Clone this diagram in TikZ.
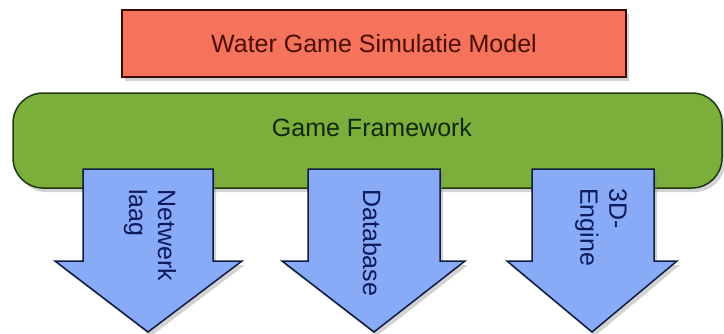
\documentclass[tikz,border=0pt]{standalone}
\usepackage{fontspec}
\setmainfont{Liberation Sans}
\usetikzlibrary{shadows}
\definecolor{redfill}{HTML}{F4735A}
\definecolor{redline}{HTML}{3A0A02}
\definecolor{redtext}{HTML}{4A0E04}
\definecolor{greenfill}{HTML}{7BAE3B}
\definecolor{greenline}{HTML}{1E3812}
\definecolor{greentext}{HTML}{10280A}
\definecolor{bluefill}{HTML}{88AAF7}
\definecolor{blueline}{HTML}{0E1C40}
\definecolor{bluetext}{HTML}{0C1A5A}
\tikzset{
  shadowed/.style={drop shadow={opacity=0.35, shadow xshift=3pt, shadow yshift=-4pt}},
  redbox/.style={draw=redline, fill=redfill, line width=1.5pt, shadowed, text=redtext, inner sep=0pt},
  greenbox/.style={draw=greenline, fill=greenfill, line width=1.5pt, shadowed, rounded corners=30pt, inner sep=0pt},
  labeltext/.style={font=\fontsize{25}{29}\selectfont, inner sep=0pt},
  bluearrow/.style={draw=blueline, fill=bluefill, line width=1.5pt, shadowed, line join=miter},
  arrowtext/.style={labeltext, text=bluetext, rotate=-90, anchor=west, align=left},
}
\begin{document}
\begin{tikzpicture}[x=1pt, y=-1pt]
\useasboundingbox (0,0) rectangle (724,333);
\fill[white] (0,0) rectangle (724,333);
% Top box
\node[redbox, labeltext, minimum width=504pt, minimum height=67pt] (model) at (374,43.5) {Water Game Simulatie Model};
% Framework
\node[greenbox, minimum width=709pt, minimum height=95pt] (fw) at (367.5,140.5) {};
\node[labeltext, text=greentext] (fwlabel) at (372,128) {Game Framework};
% Arrows
\draw[bluearrow] (83,169) -- (213,169) -- (213,261) -- (242,261) -- (148,332) -- (55,261) -- (83,261) -- cycle;
\draw[bluearrow] (308,169) -- (440,169) -- (440,261) -- (465,261) -- (374,332) -- (282,261) -- (308,261) -- cycle;
\draw[bluearrow] (532,169) -- (654,169) -- (654,261) -- (677,261) -- (592,332) -- (507,261) -- (532,261) -- cycle;
\node[arrowtext] (net) at (150,189) {Netwerk\\laag};
\node[arrowtext] (db) at (372,189) {Database};
\node[arrowtext] (eng) at (601,188) {3D-\\Engine};
\end{tikzpicture}
\end{document}
